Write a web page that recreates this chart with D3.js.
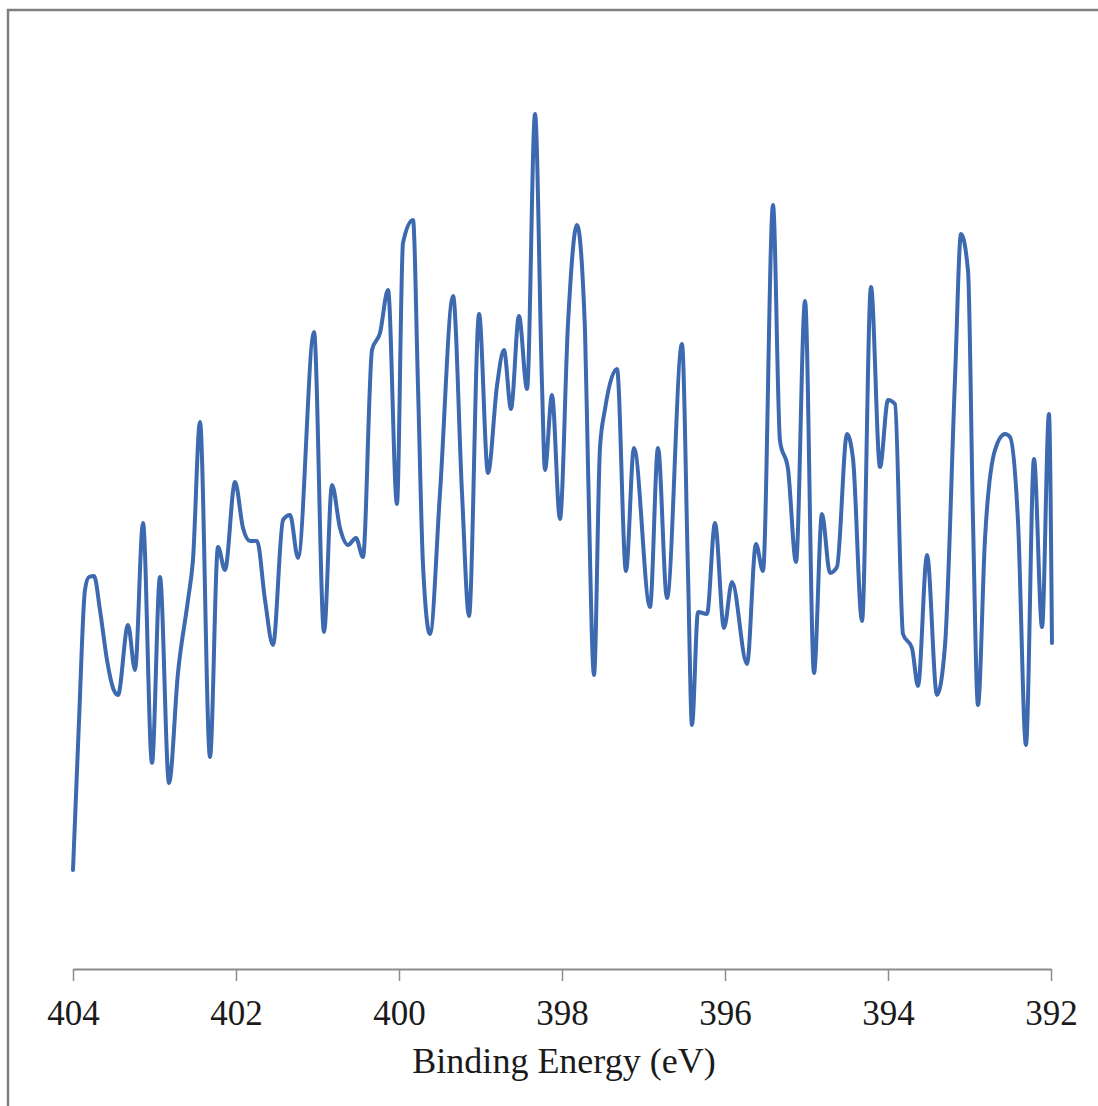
<!DOCTYPE html>
<html>
<head>
<meta charset="utf-8">
<script src="https://d3js.org/d3.v7.min.js"></script>
<style>
  body { margin: 0; background: #fff; }
  svg { display: block; }
</style>
</head>
<body>
<svg width="1098" height="1106"></svg>
<script>
// binding energy (eV)
var energy = [
  404.000, 403.926, 403.853, 403.804, 403.742, 403.669, 403.583, 403.509, 403.448, 403.325,
  403.239, 403.141, 403.031, 402.933, 402.822, 402.712, 402.589, 402.528, 402.442, 402.319,
  402.221, 402.135, 402.012, 401.914, 401.828, 401.742, 401.644, 401.546, 401.423, 401.337,
  401.239, 401.043, 400.920, 400.822, 400.724, 400.626, 400.528, 400.442, 400.331, 400.233,
  400.135, 400.025, 399.951, 399.828, 399.767, 399.706, 399.620, 399.497, 399.337, 399.227,
  399.141, 399.018, 398.908, 398.798, 398.712, 398.626, 398.528, 398.429, 398.331, 398.245,
  398.209, 398.123, 398.025, 397.926, 397.816, 397.718, 397.681, 397.607, 397.534, 397.472,
  397.325, 397.215, 397.117, 396.920, 396.822, 396.712, 396.528, 396.454, 396.405, 396.331,
  396.221, 396.123, 396.012, 395.914, 395.730, 395.620, 395.534, 395.411, 395.325, 395.227,
  395.129, 395.018, 394.908, 394.810, 394.712, 394.626, 394.503, 394.429, 394.319, 394.209,
  394.098, 394.000, 393.914, 393.816, 393.706, 393.632, 393.521, 393.399, 393.301, 393.178,
  393.104, 393.018, 392.957, 392.896, 392.810, 392.687, 392.564, 392.503, 392.405, 392.307,
  392.209, 392.110, 392.025, 391.988
];

// intensity (a.u.)
var intensity = [
   9.9, 24.9, 37.9, 39.2, 39.3, 35.9, 30.9, 28.1, 27.4, 34.4,
  29.9, 44.6, 20.6, 39.2, 18.6, 29.6, 36.9, 40.9, 54.7, 21.2,
  42.2, 39.9, 48.7, 44.1, 42.8, 42.8, 36.9, 32.4, 44.9, 45.4,
  41.1, 63.7, 33.7, 48.4, 44.1, 42.4, 43.1, 41.2, 61.9, 63.6,
  67.9, 46.5, 72.6, 74.9, 58.3, 40.5, 33.5, 47.6, 67.3, 47.6,
  35.3, 65.5, 49.6, 58.3, 61.9, 56.0, 65.3, 58.0, 85.5, 58.3,
  49.9, 57.4, 45.0, 64.6, 74.4, 63.9, 50.3, 29.4, 52.1, 56.0,
  60.0, 39.8, 52.1, 36.2, 52.1, 37.1, 62.5, 39.6, 24.4, 35.7,
  35.5, 44.6, 34.1, 38.7, 30.5, 42.5, 39.8, 76.4, 52.8, 50.0,
  40.7, 66.8, 29.6, 45.5, 39.6, 40.2, 53.5, 51.0, 34.8, 68.2,
  50.2, 56.9, 56.5, 33.5, 32.1, 28.3, 41.4, 27.4, 32.3, 59.0,
  73.5, 69.8, 44.8, 26.4, 43.0, 51.9, 53.5, 53.2, 44.8, 22.4,
  51.0, 34.2, 55.5, 32.6
];

var xTicks = [404, 402, 400, 398, 396, 394, 392];

var svg = d3.select("svg");

// frame around the figure (only top/left visible in the picture)
svg.append("rect")
    .attr("x", 8)
    .attr("y", 10)
    .attr("width", 1200)
    .attr("height", 1200)
    .attr("fill", "none")
    .attr("stroke", "#7f7f7f")
    .attr("stroke-width", 2.5);

var x = d3.scaleLinear().domain([404, 392]).range([73, 1051]);
var y = d3.scaleLinear().domain([0, 90]).range([969, 69]);

var data = energy.map(function (e, i) { return { e: e, v: intensity[i] }; });

var xAxis = d3.axisBottom(x)
    .tickValues(xTicks)
    .tickFormat(d3.format("d"))
    .tickSize(12)
    .tickPadding(19)
    .tickSizeOuter(0);

var gx = svg.append("g")
    .attr("transform", "translate(0,969)")
    .call(xAxis);

gx.select(".domain").attr("stroke", "#8c8c8c").attr("stroke-width", 2);
gx.selectAll(".tick line").attr("stroke", "#8c8c8c").attr("stroke-width", 1.5);
gx.selectAll(".tick text")
    .attr("fill", "#1a1a1a")
    .style("font-family", "'Liberation Serif', 'Times New Roman', serif")
    .style("font-size", "35px");

svg.append("text")
    .attr("x", 564)
    .attr("y", 1073)
    .attr("text-anchor", "middle")
    .attr("fill", "#1a1a1a")
    .style("font-family", "'Liberation Serif', 'Times New Roman', serif")
    .style("font-size", "36px")
    .text("Binding Energy (eV)");

var line = d3.line()
    .x(function (d) { return x(d.e); })
    .y(function (d) { return y(d.v); })
    .curve(d3.curveMonotoneX);

svg.append("path")
    .datum(data)
    .attr("fill", "none")
    .attr("stroke", "#3c69b0")
    .attr("stroke-width", 4)
    .attr("stroke-linejoin", "round")
    .attr("stroke-linecap", "round")
    .attr("d", line);
</script>
</body>
</html>
